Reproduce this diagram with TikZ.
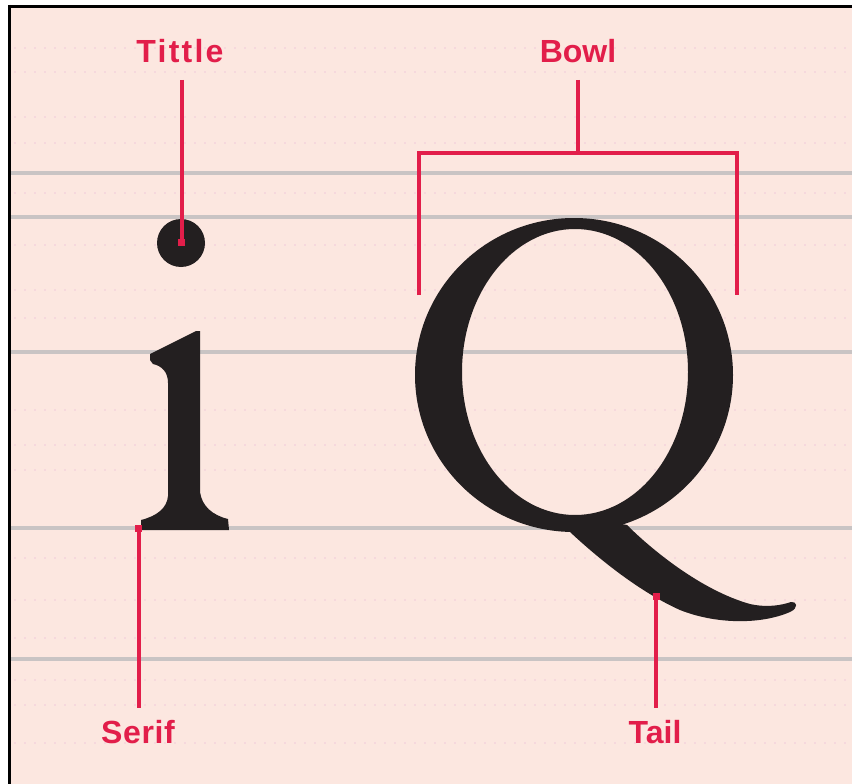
\documentclass[tikz,border=0pt]{standalone}
\usepackage{fontspec}
\newfontfamily\labfont{Liberation Sans}
\definecolor{bgpink}{RGB}{252,231,224}
\definecolor{labred}{RGB}{226,30,74}
\definecolor{rulegray}{RGB}{201,196,196}
\definecolor{dotpink}{RGB}{246,216,221}
\definecolor{ink}{RGB}{35,31,32}
\begin{document}
\begin{tikzpicture}[x=1pt,y=-1pt,
  guide/.style={rulegray,line width=3.5pt},
  faint/.style={dotpink,line width=2pt,dash pattern=on 2pt off 8pt},
  callout/.style={labred,line width=4pt},
  lab/.style={labred,font=\labfont\bfseries\fontsize{32}{36}\selectfont,inner sep=0pt,anchor=base},
  tipdot/.style={fill=labred,minimum size=7pt,inner sep=0pt,rectangle},
  glyph/.style={fill=ink}]
\useasboundingbox (0,0) rectangle (852,784);
\fill[white] (0,0) rectangle (852,784);
\fill[bgpink] (9.5,6.5) rectangle (852,784);
% faint dotted grid
\foreach \y in {48,72,117,143,193,245,290,318,410,445,470,558,600,638,680,705,743}
  \draw[faint] (14,\y) -- (852,\y);
% guide lines
\foreach \y in {173,217,352,528,659}
  \draw[guide] (11,\y) -- (852,\y);
% frame
\draw[black,line width=3pt] (8,6.5) -- (852,6.5);
\draw[black,line width=3pt] (9.5,5) -- (9.5,784);
% letter i
\fill[glyph] (181,243) circle [radius=24];
\fill[glyph] (200,331) -- (200,492) .. controls (202,506) and (212,515) .. (228,519)
  -- (229,530) -- (141,530) -- (141,520) .. controls (157,516) and (167,508) .. (168,496)
  -- (168,383) .. controls (168,372) and (162,366) .. (153,364) -- (150,360) -- (150,354)
  -- (196,331) -- cycle;
% letter Q
\fill[glyph,even odd rule] (574,375) ellipse [x radius=159, y radius=157]
  (575,372) ellipse [x radius=113, y radius=143];
\fill[glyph] (600,520) -- (627,525) .. controls (650,548) and (700,590) .. (750,604)
  .. controls (768,608) and (782,605) .. (791,602)
  .. controls (797,601) and (799,608) .. (790,612)
  .. controls (760,625) and (715,624) .. (680,610)
  .. controls (640,592) and (600,560) .. (570,532) -- cycle;
% labels
\node[lab] (tittle) at (180,63) {\addfontfeature{LetterSpace=7}Tittle};
\node[lab] (bowl) at (578,63) {Bowl};
\node[lab] (serif) at (138,743) {\addfontfeature{LetterSpace=2}Serif};
\node[lab] (tail) at (655,743) {Tail};
% callout end points
\coordinate (tittletop) at (181.5,80);
\node[tipdot] (tittledot) at (181.5,242) {};
\coordinate (bowltop) at (578,80);
\coordinate (bowlmid) at (578,153);
\coordinate (bowlL) at (419,153);
\coordinate (bowlLend) at (419,295);
\coordinate (bowlR) at (737,153);
\coordinate (bowlRend) at (737,295);
\node[tipdot] (serifdot) at (138.5,528) {};
\coordinate (serifend) at (138.5,708);
\node[tipdot] (taildot) at (656,596) {};
\coordinate (tailend) at (656,708);
% callouts
\draw[callout] (tittletop) -- (tittledot.center);
\draw[callout] (bowltop) -- (bowlmid);
\draw[callout] (bowlLend) -- (bowlL) -- (bowlR) -- (bowlRend);
\draw[callout] (serifdot.center) -- (serifend);
\draw[callout] (taildot.center) -- (tailend);
\end{tikzpicture}
\end{document}
